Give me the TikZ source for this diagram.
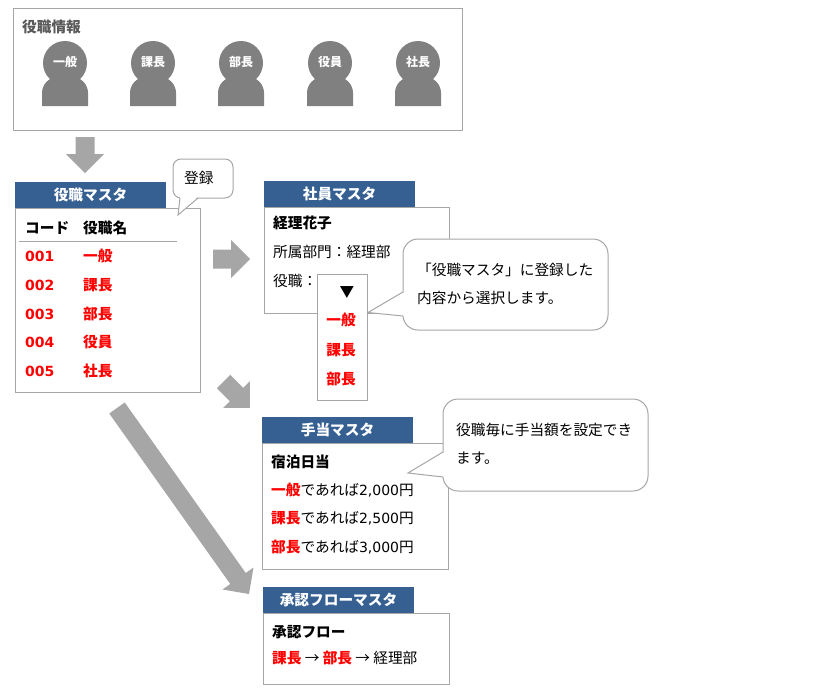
\documentclass[tikz,border=0pt]{standalone}
\usepackage{fontspec}
\setmainfont{Noto Sans CJK JP}
\newfontfamily\latfont{DejaVu Sans}
\usetikzlibrary{calc}
\definecolor{hdrblue}{RGB}{54,96,146}
\definecolor{arrgray}{RGB}{166,166,166}
\definecolor{bordergray}{RGB}{166,166,166}
\definecolor{persongray}{RGB}{128,128,128}
\definecolor{titlegray}{RGB}{89,89,89}
\definecolor{myred}{RGB}{255,0,0}
\newcommand\myfs[1]{\fontsize{#1}{#1}\selectfont}
\newcommand\rb[1]{\textcolor{myred}{\bfseries #1}}
\newcommand\lat[1]{{\latfont\fontsize{14}{14}\selectfont #1}}
% block arrow from coordinate #1 to tip #2
\newcommand\blockarr[2]{%
  \fill[arrgray] let \p1=($(#2)-(#1)$), \n1={atan2(\y1,\x1)}, \n2={veclen(\x1,\y1)} in
    ([shift={(#1)},rotate=\n1]0pt,-9.5pt)
    -- ([shift={(#1)},rotate=\n1]\n2-19pt,-9.5pt)
    -- ([shift={(#1)},rotate=\n1]\n2-19pt,-19pt)
    -- ([shift={(#1)},rotate=\n1]\n2,0pt)
    -- ([shift={(#1)},rotate=\n1]\n2-19pt,19pt)
    -- ([shift={(#1)},rotate=\n1]\n2-19pt,9.5pt)
    -- ([shift={(#1)},rotate=\n1]0pt,9.5pt) -- cycle;}
% person icon: #1 name, #2 x, #3 label
\newcommand\person[3]{%
  \fill[persongray] (#2-23,106) -- (#2-23,93) to[out=90,in=180] (#2-7,77) -- (#2+7,77)
     to[out=0,in=90] (#2+23,93) -- (#2+23,106) -- cycle;
  \fill[persongray] (#2,63) circle[radius=22pt];
  \node[plabel] (#1) at (#2,66.6) {#3};}
\begin{document}
\begin{tikzpicture}[x=1pt,y=-1pt,
  box/.style={draw=bordergray, fill=white, line width=1pt, inner sep=0pt, outer sep=0pt, anchor=north west},
  hdr/.style={fill=hdrblue, text=white, font=\myfs{14.67}\bfseries, inner sep=0pt, outer sep=0pt,
              anchor=north west, minimum width=151pt, minimum height=26pt},
  txt/.style={anchor=base west, inner sep=0pt, font=\myfs{14.67}},
  btxt/.style={txt, font=\myfs{14.67}\bfseries},
  redtxt/.style={btxt, text=myred},
  ctxt/.style={anchor=base, inner sep=0pt, font=\myfs{14.67}\bfseries, text=myred},
  plabel/.style={anchor=base, inner sep=0pt, font=\myfs{12}\bfseries, text=white},
  callbox/.style={draw=bordergray, fill=white, line width=1pt, anchor=north west, inner sep=0pt, outer sep=0pt},
]
\useasboundingbox (0,0) rectangle (826,693);

% ---------- top box: 役職情報 ----------
\node[box, minimum width=449pt, minimum height=121pt] (info) at (13,9) {};
\node[btxt, text=titlegray] (infotitle) at (22,32.6) {役職情報};
\person{p1}{65}{一般}
\person{p2}{153}{課長}
\person{p3}{241}{部長}
\person{p4}{330}{役員}
\person{p5}{418}{社長}

% ---------- arrows ----------
\coordinate (a1s) at (85,137);  \coordinate (a1t) at (85,173);
\coordinate (a2s) at (213,259); \coordinate (a2t) at (250,259);
\coordinate (a3s) at (223.5,381.5); \coordinate (a3t) at (250,408);
\coordinate (a4s) at (117,408); \coordinate (a4t) at (249,594);
\blockarr{a1s}{a1t}
\blockarr{a2s}{a2t}
\blockarr{a3s}{a3t}
\blockarr{a4s}{a4t}

% ---------- 役職マスタ ----------
\node[box, minimum width=185pt, minimum height=184pt] (ymbox) at (15,208) {};
\node[hdr] (ymhdr) at (15,182) {役職マスタ};
\node[btxt] (colcode) at (25,233.6) {コード};
\node[btxt] (colname) at (83,233.6) {役職名};
\draw[bordergray, line width=1pt] (19,241) coordinate (hl1) -- (177,241) coordinate (hl2);
\node[redtxt] (c1) at (25,261.3) {\lat{001}}; \node[redtxt] (n1) at (83,261.6) {一般};
\node[redtxt] (c2) at (25,290.3) {\lat{002}}; \node[redtxt] (n2) at (83,290.6) {課長};
\node[redtxt] (c3) at (25,319.0) {\lat{003}}; \node[redtxt] (n3) at (83,319.3) {部長};
\node[redtxt] (c4) at (25,347.3) {\lat{004}}; \node[redtxt] (n4) at (83,347.6) {役員};
\node[redtxt] (c5) at (25,376.0) {\lat{005}}; \node[redtxt] (n5) at (83,376.3) {社長};

% callout 登録
\node[callbox, rounded corners=8pt, minimum width=60pt, minimum height=39pt] (call1) at (173,159) {};
\fill[white] (180,196.5) -- (178,215) -- (198,196.5) -- cycle;
\draw[bordergray, line width=1pt] (180,198) -- (178,215) -- (198,198);
\node[txt] (call1txt) at (184,183.6) {登録};

% ---------- 社員マスタ ----------
\node[box, minimum width=185pt, minimum height=106pt] (sabox) at (264,207) {};
\node[hdr] (sahdr) at (264,181) {社員マスタ};
\node[btxt] (sa1) at (273,228.6) {経理花子};
\node[txt] (sa2) at (273,257.6) {所属部門：経理部};
\node[txt] (sa3) at (273,286.6) {役職：};
\node[box, minimum width=50pt, minimum height=126pt] (drop) at (317,274) {};
\node[anchor=base, inner sep=0pt, font=\myfs{14.67}] (tri) at (347,297.6) {▼};
\node[ctxt] (d1) at (341,325.6) {一般};
\node[ctxt] (d2) at (341,355.6) {課長};
\node[ctxt] (d3) at (341,384.6) {部長};

% callout 2
\node[callbox, rounded corners=15pt, minimum width=205pt, minimum height=91pt] (call2) at (403,239) {};
\fill[white] (404.6,292) -- (368,312.5) -- (404.6,316) -- cycle;
\draw[bordergray, line width=1pt] (403,292) -- (368,312.5) -- (403,316);
\node[txt] (call2a) at (417,275.6) {「役職マスタ」に登録した};
\node[txt] (call2b) at (417,303.6) {内容から選択します。};

% ---------- 手当マスタ ----------
\node[box, minimum width=186pt, minimum height=126pt] (tebox) at (262,443) {};
\node[hdr] (tehdr) at (262,417) {手当マスタ};
\node[btxt] (te1) at (271,467.6) {宿泊日当};
\node[txt] (te2) at (271,495.6) {\rb{一般}であれば\lat{2,000}円};
\node[txt] (te3) at (271,523.6) {\rb{課長}であれば\lat{2,500}円};
\node[txt] (te4) at (271,552.6) {\rb{部長}であれば\lat{3,000}円};

% callout 3
\node[callbox, rounded corners=15pt, minimum width=205pt, minimum height=92pt] (call3) at (443,399) {};
\fill[white] (444.6,452) -- (408,473) -- (444.6,477) -- cycle;
\draw[bordergray, line width=1pt] (443,452) -- (408,473) -- (443,477);
\node[txt] (call3a) at (456,435.6) {役職毎に手当額を設定でき};
\node[txt] (call3b) at (456,463.6) {ます。};

% ---------- 承認フローマスタ ----------
\node[box, minimum width=186pt, minimum height=71pt] (shbox) at (263,613) {};
\node[hdr] (shhdr) at (263,587) {承認フローマスタ};
\node[btxt] (sh1) at (272,637.6) {承認フロー};
\node[txt] (sh2) at (272,663.6) {\rb{課長} → \rb{部長} → 経理部};
\end{tikzpicture}
\end{document}
